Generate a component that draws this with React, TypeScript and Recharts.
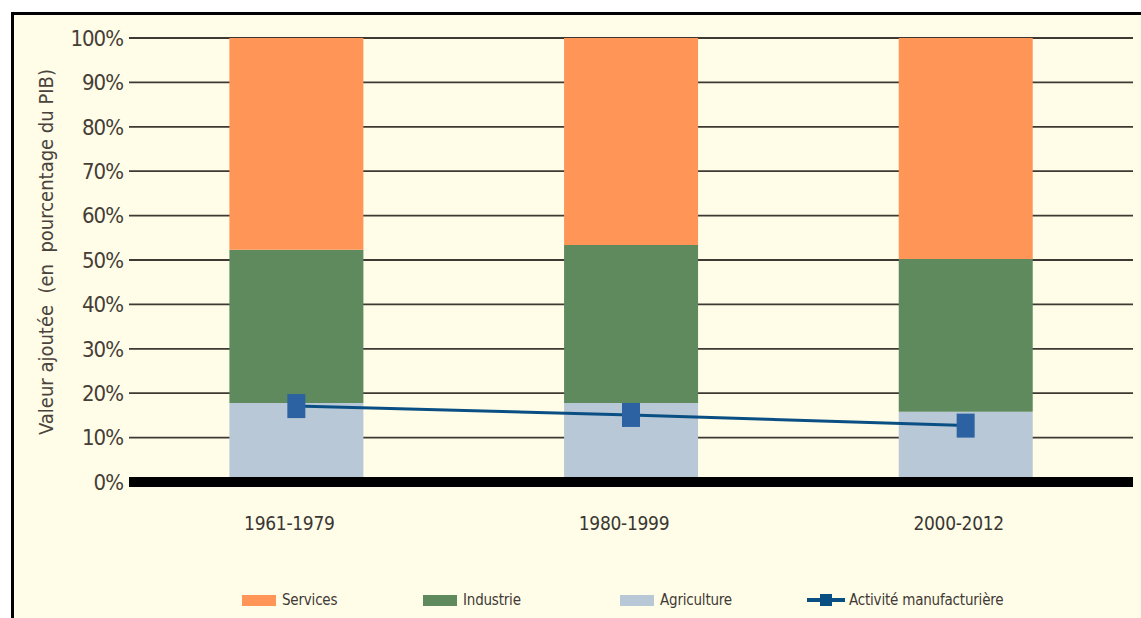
import { ComposedChart, Bar, Line, XAxis, YAxis, CartesianGrid, Legend } from "recharts";

const periods = ["1961-1979", "1980-1999", "2000-2012"];
const agriculture = [17.8, 17.8, 15.8];
const industrie = [34.5, 35.6, 34.4];
const services = [47.7, 46.6, 49.8];
const manufacturiere = [17.1, 15.1, 12.7];
const yTicks = [0, 10, 20, 30, 40, 50, 60, 70, 80, 90, 100];

const COLORS = { services: "#ff9657", industrie: "#5e8a5e", agriculture: "#b8c8d6", line: "#0a4f84", marker: "#2d62a2" };
const NARROW = "'Liberation Sans Narrow', 'DejaVu Sans Condensed', 'Arial Narrow', sans-serif";

const data = periods.map((p, i) => ({
  period: p,
  agriculture: agriculture[i],
  industrie: industrie[i],
  services: services[i],
  manuf: manufacturiere[i],
}));

const legendItems = [
  { label: "Services", color: COLORS.services, w: 181, kind: "box" },
  { label: "Industrie", color: COLORS.industrie, w: 197, kind: "box" },
  { label: "Agriculture", color: COLORS.agriculture, w: 187, kind: "box" },
  { label: "Activité manufacturière", color: COLORS.line, w: 220, kind: "line" },
];

const MarkerDot = (props: any) => {
  const { cx, cy } = props;
  if (cx == null || cy == null) return null;
  return <rect x={cx - 9} y={cy - 12} width={18} height={24} fill={COLORS.marker} />;
};

const renderLegend = () => (
  <div style={{ display: "flex", paddingLeft: 228, fontFamily: NARROW, fontSize: 15, color: "#3f3a35", alignItems: "center", height: 24 }}>
    {legendItems.map(it => (
      <div key={it.label} style={{ width: it.w, display: "flex", alignItems: "center" }}>
        {it.kind === "box" ? (
          <span style={{ display: "inline-block", width: 34, height: 11, background: it.color, marginRight: 6 }} />
        ) : (
          <svg width={38} height={14} style={{ marginRight: 4 }}>
            <line x1={0} y1={7} x2={38} y2={7} stroke={it.color} strokeWidth={4} />
            <rect x={13} y={1} width={12} height={12} fill={it.color} />
          </svg>
        )}
        <span style={{ letterSpacing: -0.2 }}>{it.label}</span>
      </div>
    ))}
  </div>
);

export default function App() {
  return (
    <div style={{ position: "fixed", left: 11, top: 12, width: 1130, height: 606, boxSizing: "border-box", borderTop: "3px solid #000", borderLeft: "3px solid #000", background: "#fffde8", overflow: "hidden" }}>
      <ComposedChart width={1127} height={603} data={data} margin={{ top: 23, right: 8, bottom: 6, left: 0 }} barCategoryGap="30%">
        <CartesianGrid vertical={false} stroke="#3f3833" strokeWidth={1.8} />
        <XAxis
          dataKey="period"
          height={106}
          tickLine={false}
          tickSize={0}
          tickMargin={35}
          axisLine={{ stroke: "#000", strokeWidth: 10 }}
          tick={{ fill: "#3a3733", fontSize: 19, fontFamily: NARROW, letterSpacing: -0.3, dx: -7 }}
        />
        <YAxis
          width={115}
          domain={[0, 100]}
          ticks={yTicks}
          tickFormatter={v => `${v}%`}
          tickLine={false}
          tickSize={0}
          tickMargin={6}
          axisLine={false}
          tick={{ fill: "#463d36", fontSize: 22, fontFamily: NARROW, letterSpacing: -1 }}
          label={{
            content: () => (
              <text x={32} y={237} transform="rotate(-90 32 237)" textAnchor="middle" dominantBaseline="central" fill="#4a433c" fontSize={20} fontFamily={NARROW} style={{ whiteSpace: "pre" }}>
                Valeur ajoutée  (en  pourcentage du PIB)
              </text>
            ),
          }}
        />
        <Legend verticalAlign="bottom" content={renderLegend} wrapperStyle={{ left: 0, width: 1127 }} />
        <Bar dataKey="agriculture" stackId="a" fill={COLORS.agriculture} isAnimationActive={false} name="Agriculture" />
        <Bar dataKey="industrie" stackId="a" fill={COLORS.industrie} isAnimationActive={false} name="Industrie" />
        <Bar dataKey="services" stackId="a" fill={COLORS.services} isAnimationActive={false} name="Services" />
        <Line dataKey="manuf" stroke={COLORS.line} strokeWidth={3} dot={<MarkerDot />} activeDot={false} isAnimationActive={false} name="Activité manufacturière" />
      </ComposedChart>
    </div>
  );
}
